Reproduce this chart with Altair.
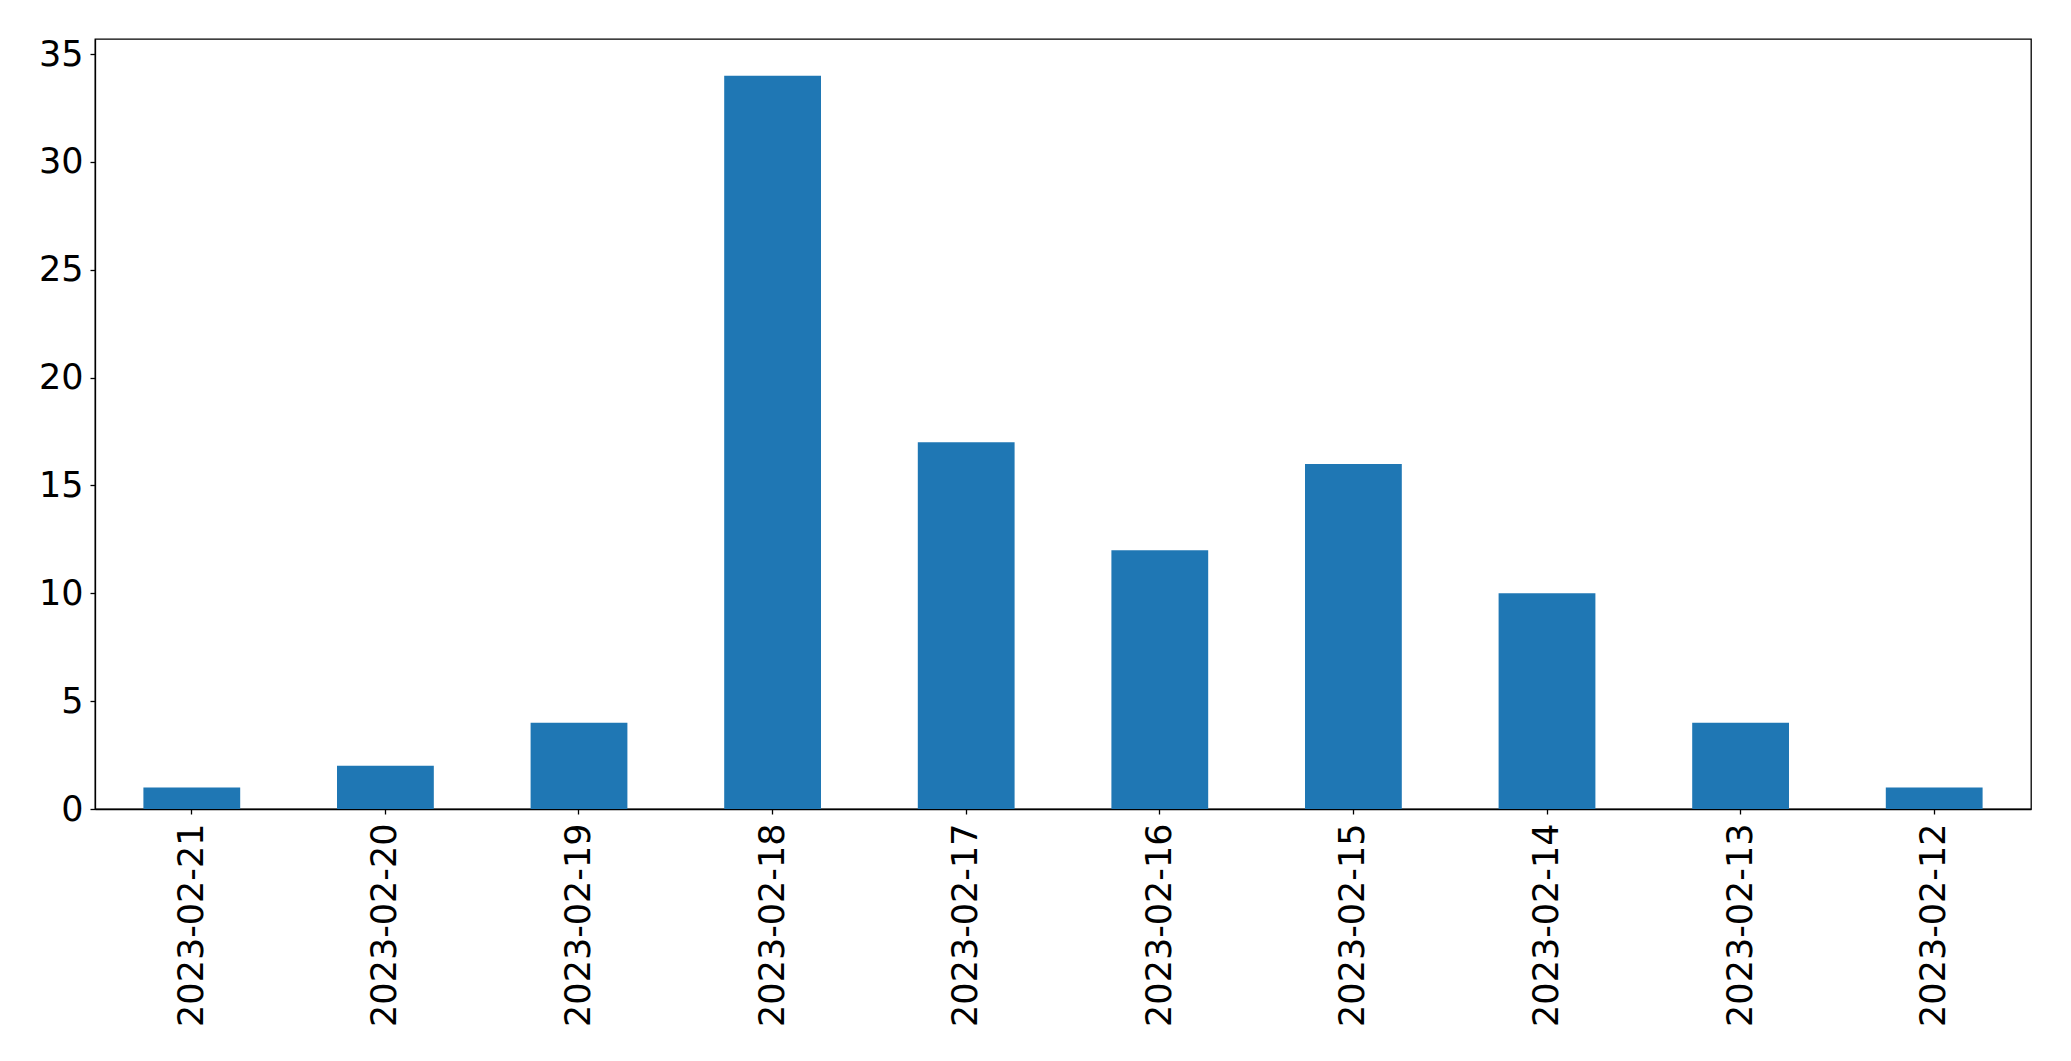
import altair as alt
import pandas as pd

dates = ["2023-02-21", "2023-02-20", "2023-02-19", "2023-02-18", "2023-02-17",
         "2023-02-16", "2023-02-15", "2023-02-14", "2023-02-13", "2023-02-12"]
counts = [1, 2, 4, 34, 17, 12, 16, 10, 4, 1]

df = pd.DataFrame({"date": dates, "count": counts})

chart = alt.Chart(df).mark_bar(color="#1f77b4").encode(
    x=alt.X("date:N", sort=None, title=None,
            scale=alt.Scale(paddingInner=0.5, paddingOuter=0.25),
            axis=alt.Axis(labelAngle=-90, labelFontSize=35, labelFont="DejaVu Sans",
                          labelColor="black", tickColor="black", tickSize=5,
                          tickWidth=1.3, domainColor="black", domainWidth=1.3,
                          labelPadding=9, labelLimit=0, grid=False)),
    y=alt.Y("count:Q", title=None,
            scale=alt.Scale(domain=[0, 35.7], nice=False, zero=True),
            axis=alt.Axis(values=[0, 5, 10, 15, 20, 25, 30, 35], labelFontSize=35,
                          labelFont="DejaVu Sans", labelColor="black", tickColor="black",
                          tickSize=5, tickWidth=1.3, domainColor="black", domainWidth=1.3,
                          labelPadding=7, labelLimit=0, grid=False)),
).properties(
    width=1936, height=770,
    autosize=alt.AutoSizeParams(type="none"),
    padding={"left": 87, "top": 31, "right": 30, "bottom": 240},
).configure(
    background="white"
).configure_view(
    stroke="black", strokeWidth=1.3
)

chart.save("out.html", embed_options={"renderer": "svg", "actions": False})
